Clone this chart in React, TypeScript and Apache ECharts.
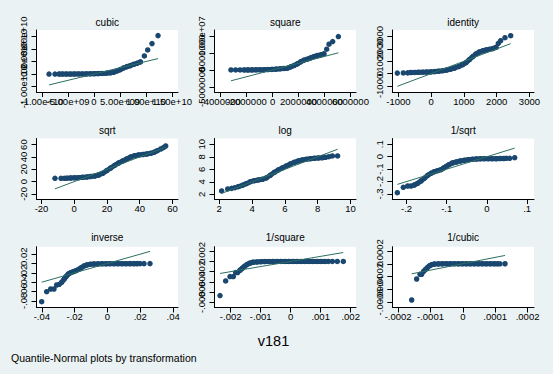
import React, { useEffect, useRef } from "react";
import * as echarts from "echarts";

// ---------- data ----------
const panelTitles = ["cubic", "square", "identity", "sqrt", "log", "1/sqrt", "inverse", "1/square", "1/cubic"];

const cubicPts = [
  [-8.65e9, 1e7], [-7.5e9, 1e7], [-6.73e9, 1.2e7], [-6.09e9, 2e7], [-5.32e9, 2.5e7], [-4.55e9, 3e7],
  [-3.78e9, 4e7], [-3.01e9, 6e7], [-2.24e9, 8e7], [-1.47e9, 1.2e8], [-0.71e9, 1.7e8], [0.06e9, 2.5e8],
  [0.83e9, 3.5e8], [1.6e9, 5e8], [2.37e9, 7e8], [3.14e9, 1.0e9], [3.78e9, 1.41e9], [4.42e9, 2.47e9],
  [5.06e9, 3.53e9], [5.71e9, 4.86e9], [6.35e9, 5.92e9], [6.99e9, 6.72e9], [7.63e9, 7.78e9], [8.27e9, 8.58e9],
  [8.91e9, 9.64e9], [9.68e9, 1.442e10], [1.032e10, 1.92e10], [1.115e10, 2.425e10], [1.231e10, 3.062e10],
];
const squarePts = [
  [-3.21e6, 5e3], [-2.85e6, 6e3], [-2.51e6, 7e3], [-2.21e6, 1e4], [-1.9e6, 1.5e4], [-1.59e6, 2e4],
  [-1.28e6, 3e4], [-0.97e6, 5e4], [-0.66e6, 8e4], [-0.35e6, 1.2e5], [-0.05e6, 1.7e5], [0.26e6, 2.4e5],
  [0.57e6, 3.3e5], [0.88e6, 4.5e5], [1.14e6, 5.2e5], [1.39e6, 9.2e5], [1.65e6, 1.31e6], [1.91e6, 1.8e6],
  [2.16e6, 2.4e6], [2.42e6, 2.89e6], [2.68e6, 3.19e6], [2.94e6, 3.58e6], [3.19e6, 3.97e6], [3.45e6, 4.27e6],
  [3.71e6, 4.47e6], [3.96e6, 4.76e6], [4.17e6, 6.15e6], [4.35e6, 7.62e6], [4.63e6, 8.41e6], [5.07e6, 9.89e6],
];
const identityPts = [
  [-1033, 40], [-849, 50], [-717, 60], [-625, 89], [-503, 95], [-381, 103], [-259, 111], [-137, 122],
  [-15, 138], [107, 162], [230, 197], [352, 238], [474, 292], [596, 359], [718, 454], [840, 576],
  [962, 724], [1064, 886], [1166, 1130], [1268, 1373], [1369, 1590], [1471, 1752], [1573, 1847],
  [1675, 1914], [1776, 1968], [1878, 2022], [1980, 2130], [2051, 2455], [2122, 2671], [2255, 2914], [2428, 3076],
];
const sqrtPts = [
  [-11.76, 5.3], [-8.09, 5.3], [-6.06, 5.3], [-4.63, 5.57], [-2.19, 5.84], [0.26, 6.11], [2.7, 6.38],
  [5.14, 6.92], [7.58, 7.46], [10.03, 8.27], [12.47, 9.08], [14.91, 10.71], [17.36, 13.41], [19.8, 17.73],
  [22.24, 22.06], [24.68, 26.39], [27.13, 30.17], [29.57, 33.41], [32.01, 36.66], [34.46, 39.9],
  [36.9, 42.06], [39.34, 43.15], [41.78, 43.96], [44.23, 44.77], [46.67, 45.85], [48.7, 47.48],
  [50.74, 50.17], [52.78, 52.88], [54.4, 55.04], [55.83, 57.74],
];
const logPts = [
  [2.15, 2.53], [2.52, 2.85], [2.76, 2.95], [2.96, 3.06], [3.16, 3.22], [3.41, 3.44], [3.65, 3.7],
  [3.9, 4.02], [4.14, 4.18], [4.38, 4.29], [4.63, 4.4], [4.87, 4.61], [5.11, 5.04], [5.36, 5.52],
  [5.6, 5.89], [5.84, 6.21], [6.09, 6.53], [6.33, 6.85], [6.57, 7.12], [6.82, 7.33], [7.06, 7.49],
  [7.3, 7.6], [7.55, 7.7], [7.79, 7.76], [8.04, 7.81], [8.28, 7.86], [8.48, 7.92], [8.68, 8.02],
  [8.89, 8.13], [9.21, 8.13],
];
const invSqrtPts = [
  [-0.2229, -0.2894], [-0.208, -0.2464], [-0.1972, -0.2357], [-0.1889, -0.2357], [-0.1806, -0.2277],
  [-0.1723, -0.2142], [-0.1641, -0.1955], [-0.1558, -0.174], [-0.1475, -0.1499], [-0.1392, -0.1338],
  [-0.1309, -0.1204], [-0.1226, -0.1124], [-0.1143, -0.1043], [-0.1077, -0.0909], [-0.101, -0.0775],
  [-0.0944, -0.0641], [-0.0861, -0.0507], [-0.0762, -0.0426], [-0.0662, -0.0346], [-0.0563, -0.0292],
  [-0.0463, -0.0239], [-0.0364, -0.0212], [-0.0264, -0.0185], [-0.0165, -0.0172], [-0.0065, -0.0158],
  [0.0034, -0.0158], [0.0134, -0.0158], [0.0233, -0.0158], [0.0333, -0.0145], [0.0416, -0.0145],
  [0.0482, -0.0131], [0.0565, -0.0131], [0.069, -0.0078],
];
const inversePts = [
  [-0.04014, -0.08182], [-0.03709, -0.06041], [-0.03465, -0.05469], [-0.03262, -0.05469],
  [-0.03099, -0.04612], [-0.02937, -0.04469], [-0.02795, -0.04041], [-0.02652, -0.03398],
  [-0.02531, -0.02829], [-0.02388, -0.02257], [-0.02246, -0.01972], [-0.02083, -0.01758],
  [-0.01921, -0.01544], [-0.01758, -0.01257], [-0.01596, -0.00901], [-0.01433, -0.00544],
  [-0.0127, -0.0033], [-0.01067, -0.00186], [-0.00823, -0.00116], [-0.00579, -0.0009],
  [-0.00335, -0.0008], [-0.00091, -0.0007], [0.00152, -0.0006], [0.00396, -0.0006], [0.0064, -0.0005],
  [0.00884, -0.0005], [0.01128, -0.0005], [0.01372, -0.0004], [0.01616, -0.0004], [0.01819, -0.0004],
  [0.01982, -0.0004], [0.02226, -0.0004], [0.02591, -0.0003],
];
const invSquarePts = [
  [-0.002357, -0.006694], [-0.002168, -0.003818], [-0.002023, -0.002968], [-0.001912, -0.002968],
  [-0.001834, -0.002184], [-0.001768, -0.002184], [-0.00169, -0.001726], [-0.001612, -0.001334],
  [-0.001534, -0.000941], [-0.001457, -0.000616], [-0.001368, -0.000353], [-0.001257, -0.000157],
  [-0.001123, -0.000092], [-0.00099, -0.00004], [-0.000857, -0.00002], [-0.000723, -0.000015],
  [-0.00059, -0.00001], [-0.000457, -0.000008], [-0.000323, -0.000006], [-0.00019, -0.000005],
  [-0.000057, -0.000004], [0.000077, -0.000003], [0.00021, -0.000003], [0.000343, -0.000002],
  [0.000477, -0.000002], [0.00061, -0.000002], [0.000743, -0.000002], [0.000877, -0.000001],
  [0.00101, -0.000001], [0.001143, -0.000001], [0.001254, -0.000001], [0.001388, -0.000001],
  [0.001554, -0.000001], [0.001754, -0.0000001],
];
const invCubicPts = [
  [-0.0001582, -0.0005695], [-0.0001428, -0.0002396], [-0.0001325, -0.0001662], [-0.0001273, -0.0001662],
  [-0.0001211, -0.0001191], [-0.000115, -0.0000877], [-0.0001088, -0.0000562], [-0.0001026, -0.0000302],
  [-0.0000964, -0.0000145], [-0.0000882, -0.000004], [-0.0000758, -0.000002], [-0.0000635, -0.0000015],
  [-0.0000511, -0.000001], [-0.0000387, -0.0000008], [-0.0000264, -0.0000006], [-0.000014, -0.0000005],
  [-0.0000016, -0.0000004], [0.0000107, -0.0000003], [0.0000231, -0.0000003], [0.0000355, -0.0000002],
  [0.0000478, -0.0000002], [0.0000602, -0.0000002], [0.0000725, -0.0000001], [0.0000849, -0.0000001],
  [0.0000973, -0.0000001], [0.0001076, -0.0000001], [0.0001148, -0.0000001], [0.0001303, -0.00000003],
];

// index range [first, last] of the densely overlapping part of each panel's points
const cubicBand = [2, 24];
const squareBand = [3, 25];
const identityBand = [3, 26];
const sqrtBand = [3, 26];
const logBand = [4, 26];
const invSqrtBand = [4, 29];
const inverseBand = [6, 29];
const invSquareBand = [6, 29];
const invCubicBand = [4, 25];

// reference lines (y = x between the first and last normal quantile)
const cubicLine = [-8.65e9, 1.231e10];
const squareLine = [-3.21e6, 5.07e6];
const identityLine = [-1033, 2428];
const sqrtLine = [-11.76, 55.83];
const logLine = [2.15, 9.21];
const invSqrtLine = [-0.2229, 0.069];
const inverseLine = [-0.04014, 0.02591];
const invSquareLine = [-0.002357, 0.001754];
const invCubicLine = [-0.0001582, 0.0001303];

// tick values and labels
const cubicXTicks = [-1e10, -5e9, 0, 5e9, 1e10, 1.5e10];
const cubicXLabels = ["-1.00e+10", "-5.00e+09", "0", "5.00e+09", "1.00e+10", "1.50e+10"];
const cubicYTicks = [-1e10, 0, 1e10, 2e10, 3e10];
const cubicYLabels = ["-1.00e+10", "0", "1.00e+10", "2.00e+10", "3.00e+10"];
const squareXTicks = [-4e6, -2e6, 0, 2e6, 4e6, 6e6];
const squareXLabels = ["-4000000", "-2000000", "0", "2000000", "4000000", "6000000"];
const squareYTicks = [-5e6, 0, 5e6, 1e7];
const squareYLabels = ["-5000000", "0", "5000000", "1.00e+07"];
const identityTicks = [-1000, 0, 1000, 2000, 3000];
const identityLabels = ["-1000", "0", "1000", "2000", "3000"];
const sqrtTicks = [-20, 0, 20, 40, 60];
const sqrtLabels = ["-20", "0", "20", "40", "60"];
const logTicks = [2, 4, 6, 8, 10];
const logLabels = ["2", "4", "6", "8", "10"];
const invSqrtXTicks = [-0.2, -0.1, 0, 0.1];
const invSqrtXLabels = ["-.2", "-.1", "0", ".1"];
const invSqrtYTicks = [-0.3, -0.2, -0.1, 0, 0.1];
const invSqrtYLabels = ["-.3", "-.2", "-.1", "0", ".1"];
const inverseXTicks = [-0.04, -0.02, 0, 0.02, 0.04];
const inverseXLabels = ["-.04", "-.02", "0", ".02", ".04"];
const inverseYTicks = [-0.08, -0.06, -0.04, -0.02, 0, 0.02];
const inverseYLabels = ["-.08", "-.06", "-.04", "-.02", "0", ".02"];
const invSquareXTicks = [-0.002, -0.001, 0, 0.001, 0.002];
const invSquareXLabels = ["-.002", "-.001", "0", ".001", ".002"];
const invSquareYTicks = [-0.008, -0.006, -0.004, -0.002, 0, 0.002];
const invSquareYLabels = ["-.008", "-.006", "-.004", "-.002", "0", ".002"];
const invCubicXTicks = [-0.0002, -0.0001, 0, 0.0001, 0.0002];
const invCubicXLabels = ["-.0002", "-.0001", "0", ".0001", ".0002"];
const invCubicYTicks = [-0.0006, -0.0004, -0.0002, 0, 0.0002];
const invCubicYLabels = ["-.0006", "-.0004", "-.0002", "0", ".0002"];

// ---------- layout ----------
const FONT = "'Liberation Sans', Arial, Helvetica, sans-serif";
const BG = "#eaf2f3";
const MARK = "#1a476f";
const LINE = "#2d6f63";
const colLeft = [36.5, 214.5, 392.3];
const colWidth = [141.5, 141.5, 141.7];
const rowTop = [30, 138.5, 246.7];
const rowHeight = [62, 60.5, 60.8];
const titleY = [22, 130, 237.5];

const panels = [
  { pts: cubicPts, band: cubicBand, line: cubicLine, xT: cubicXTicks, xL: cubicXLabels, yT: cubicYTicks, yL: cubicYLabels, xr: [-1.106e10, 1.615e10], yr: [-1.43e10, 3.51e10] },
  { pts: squarePts, band: squareBand, line: squareLine, xT: squareXTicks, xL: squareXLabels, yT: squareYTicks, yL: squareYLabels, xr: [-4.479e6, 6.43e6], yr: [-6.524e6, 1.182e7] },
  { pts: identityPts, band: identityBand, line: identityLine, xT: identityTicks, xL: identityLabels, yT: identityTicks, yL: identityLabels, xr: [-1186, 3140], yr: [-1492, 3536] },
  { pts: sqrtPts, band: sqrtBand, line: sqrtLine, xT: sqrtTicks, xL: sqrtLabels, yT: sqrtTicks, yL: sqrtLabels, xr: [-23.05, 63.36], yr: [-28.22, 69.91] },
  { pts: logPts, band: logBand, line: logLine, xT: logTicks, xL: logLabels, yT: logTicks, yL: logLabels, xr: [1.714, 10.33], yr: [1.248, 10.928] },
  { pts: invSqrtPts, band: invSqrtBand, line: invSqrtLine, xT: invSqrtXTicks, xL: invSqrtXLabels, yT: invSqrtYTicks, yL: invSqrtYLabels, xr: [-0.2354, 0.117], yr: [-0.3403, 0.1464] },
  { pts: inversePts, band: inverseBand, line: inverseLine, xT: inverseXTicks, xL: inverseXLabels, yT: inverseYTicks, yL: inverseYLabels, xr: [-0.04329, 0.04299], yr: [-0.0943, 0.03589] },
  { pts: invSquarePts, band: invSquareBand, line: invSquareLine, xT: invSquareXTicks, xL: invSquareXLabels, yT: invSquareYTicks, yL: invSquareYLabels, xr: [-0.00254, 0.002177], yr: [-0.009029, 0.002892] },
  { pts: invCubicPts, band: invCubicBand, line: invCubicLine, xT: invCubicXTicks, xL: invCubicXLabels, yT: invCubicYTicks, yL: invCubicYLabels, xr: [-0.0002181, 0.0002199], yr: [-0.0006873, 0.0002679] },
];

function labelFor(ticks: number[], labels: string[]) {
  return (v: number) => {
    for (let i = 0; i < ticks.length; i++) {
      if (Math.abs(ticks[i] - v) <= Math.abs(ticks[1] - ticks[0]) * 1e-6) return labels[i];
    }
    return " ";
  };
}

function buildOption() {
  const grid = panels.map((_, i) => ({
    left: colLeft[i % 3],
    top: rowTop[Math.floor(i / 3)],
    width: colWidth[i % 3],
    height: rowHeight[Math.floor(i / 3)],
    show: true,
    backgroundColor: "#ffffff",
    borderWidth: 0,
    containLabel: false,
  }));
  const xAxis = panels.map((p, i) => ({
    type: "value",
    gridIndex: i,
    min: p.xr[0],
    max: p.xr[1],
    axisLine: { show: true, onZero: false, lineStyle: { color: "#000", width: 1 } },
    axisTick: { show: true, length: 5, customValues: p.xT, lineStyle: { color: "#000", width: 1 } },
    axisLabel: {
      show: true,
      customValues: [p.xr[0], ...p.xT, p.xr[1]],
      formatter: labelFor(p.xT, p.xL),
      margin: 4,
      color: "#000",
      fontSize: 9.5,
      fontFamily: FONT,
      hideOverlap: false,
    },
    splitLine: { show: false },
  }));
  const yAxis = panels.map((p, i) => ({
    type: "value",
    gridIndex: i,
    min: p.yr[0],
    max: p.yr[1],
    axisLine: { show: true, onZero: false, lineStyle: { color: "#000", width: 1 } },
    axisTick: { show: true, length: 5, customValues: p.yT, lineStyle: { color: "#000", width: 1 } },
    axisLabel: {
      show: true,
      rotate: 90,
      customValues: [p.yr[0], ...p.yT, p.yr[1]],
      formatter: labelFor(p.yT, p.yL),
      margin: 8,
      color: "#000",
      fontSize: 9.5,
      fontFamily: FONT,
      hideOverlap: false,
    },
    splitLine: { show: false },
  }));
  const series: any[] = [];
  panels.forEach((p, i) => {
    // dense, overlapping run of markers
    series.push({
      type: "line",
      xAxisIndex: i,
      yAxisIndex: i,
      data: p.pts.slice(p.band[0], p.band[1] + 1),
      symbol: "none",
      showSymbol: false,
      lineStyle: { color: MARK, width: 5, cap: "round", join: "round" },
      silent: true,
      z: 2,
    });
    series.push({
      type: "scatter",
      xAxisIndex: i,
      yAxisIndex: i,
      data: p.pts,
      symbol: "circle",
      symbolSize: 5.5,
      itemStyle: { color: MARK, opacity: 1 },
      silent: true,
      z: 2,
    });
    series.push({
      type: "line",
      xAxisIndex: i,
      yAxisIndex: i,
      data: [[p.line[0], p.line[0]], [p.line[1], p.line[1]]],
      symbol: "none",
      showSymbol: false,
      lineStyle: { color: LINE, width: 1 },
      silent: true,
      z: 3,
    });
  });
  const graphic: any[] = panelTitles.map((t, i) => ({
    type: "text",
    x: colLeft[i % 3] + colWidth[i % 3] / 2,
    y: titleY[Math.floor(i / 3)],
    style: { text: t, fontSize: 10, fontFamily: FONT, fill: "#000", align: "center", verticalAlign: "middle" },
    silent: true,
  }));
  graphic.push({
    type: "text",
    x: 273.5,
    y: 341,
    style: { text: "v181", fontSize: 14.5, fontFamily: FONT, fill: "#000", align: "center", verticalAlign: "middle" },
    silent: true,
  });
  graphic.push({
    type: "text",
    x: 11,
    y: 357.5,
    style: { text: "Quantile-Normal plots by transformation", fontSize: 10.5, fontFamily: FONT, fill: "#000", align: "left", verticalAlign: "middle" },
    silent: true,
  });
  return {
    animation: false,
    backgroundColor: BG,
    grid,
    xAxis,
    yAxis,
    series,
    graphic,
  };
}

export default function App() {
  const ref = useRef<HTMLDivElement>(null);
  useEffect(() => {
    if (!ref.current) return;
    const chart = echarts.init(ref.current, undefined, { renderer: "svg" });
    chart.setOption(buildOption() as any);
    return () => chart.dispose();
  }, []);
  return (
    <div
      ref={ref}
      style={{ position: "fixed", left: 0, top: 0, width: 553, height: 374, background: BG }}
    />
  );
}
